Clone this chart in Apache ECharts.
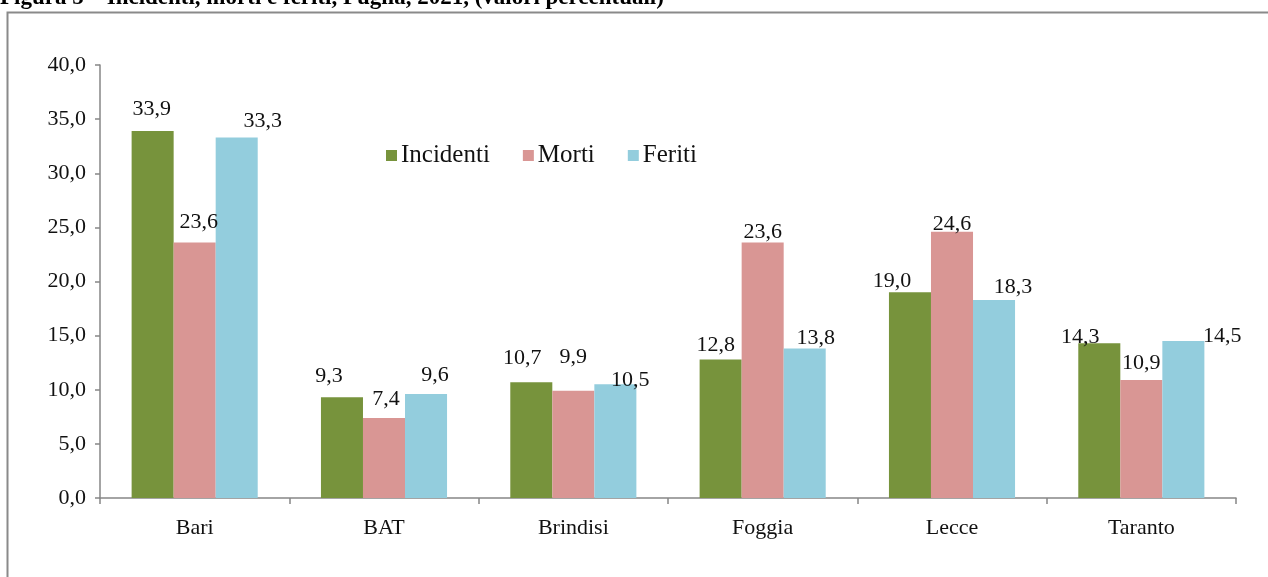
<!DOCTYPE html>
<html>
<head>
<meta charset="utf-8">
<script src="https://cdn.jsdelivr.net/npm/echarts@6/dist/echarts.min.js"></script>
<style>
html,body{margin:0;padding:0;background:#fff;}
#chart{width:1268px;height:577px;}
</style>
</head>
<body>
<div id="chart"></div>
<script>
const titleText = 'Figura 5 – Incidenti, morti e feriti, Puglia, 2021, (valori percentuali)';
const categories = ['Bari', 'BAT', 'Brindisi', 'Foggia', 'Lecce', 'Taranto'];
const seriesNames = ['Incidenti', 'Morti', 'Feriti'];
const incidenti = [33.9, 9.3, 10.7, 12.8, 19.0, 14.3];
const morti = [23.6, 7.4, 9.9, 23.6, 24.6, 10.9];
const feriti = [33.3, 9.6, 10.5, 13.8, 18.3, 14.5];
const yTicks = [0, 5, 10, 15, 20, 25, 30, 35, 40];

// label nudges (style only), [dx, dy] per point
const labelNudge = [
  [[-1,-11],[-13,-10],[-9,-13],[-5,-3],[-18,0],[-19,5]],
  [[4,-9],[2,-8],[0,-23],[0,1],[0,4],[0,-6]],
  [[26,-5],[9,-8],[15,7],[11,1],[19,-2],[39,6]]
];
const colors = ['#77933C', '#D99694', '#93CDDD'];
const serifFont = '"Liberation Serif", "DejaVu Serif", serif';
const fmt = v => v.toFixed(1).replace('.', ',');

const chart = echarts.init(document.getElementById('chart'), null, {renderer: 'canvas'});
const allValues = [incidenti, morti, feriti];

const series = seriesNames.map((name, si) => ({
  name: name,
  type: 'bar',
  barGap: '0%',
  barCategoryGap: '33.4%',
  itemStyle: {color: colors[si]},
  data: allValues[si].map((v, i) => ({
    value: v,
    label: {offset: labelNudge[si][i]}
  })),
  label: {
    show: true,
    position: 'top',
    distance: 0,
    color: '#111',
    fontFamily: serifFont,
    fontSize: 22,
    formatter: p => fmt(p.value)
  }
}));

chart.setOption({
  animation: false,
  backgroundColor: '#fff',
  graphic: [
    {
      type: 'rect',
      shape: {x: 7.5, y: 12.5, width: 1400, height: 700},
      style: {fill: 'none', stroke: '#8a8a8a', lineWidth: 2},
      silent: true
    },
    {
      type: 'text',
      x: 0,
      y: -2,
      style: {
        text: titleText,
        font: 'bold 23px "Liberation Serif", serif',
        fill: '#000',
        verticalAlign: 'middle',
        align: 'left'
      },
      silent: true
    }
  ],
  legend: {
    data: seriesNames,
    left: 381,
    top: 138,
    icon: 'rect',
    itemWidth: 11,
    itemHeight: 11,
    itemGap: 33,
    textStyle: {fontFamily: serifFont, fontSize: 25, color: '#111', padding: [0, 0, 0, -1]}
  },
  grid: {left: 100, right: 32, top: 65, bottom: 79, containLabel: false},
  xAxis: {
    type: 'category',
    data: categories,
    axisLine: {lineStyle: {color: '#868686', width: 1.5}},
    axisTick: {show: true, length: 6, lineStyle: {color: '#868686', width: 1.5}},
    axisLabel: {fontFamily: serifFont, fontSize: 22, color: '#111', margin: 19}
  },
  yAxis: {
    type: 'value',
    min: yTicks[0],
    max: yTicks[yTicks.length - 1],
    interval: yTicks[1] - yTicks[0],
    axisLine: {show: true, lineStyle: {color: '#868686', width: 1.5}},
    axisTick: {show: true, length: 5, lineStyle: {color: '#868686', width: 1.5}},
    splitLine: {show: false},
    axisLabel: {fontFamily: serifFont, fontSize: 22, color: '#111', margin: 14, formatter: v => fmt(v)}
  },
  series: series
});
</script>
</body>
</html>
